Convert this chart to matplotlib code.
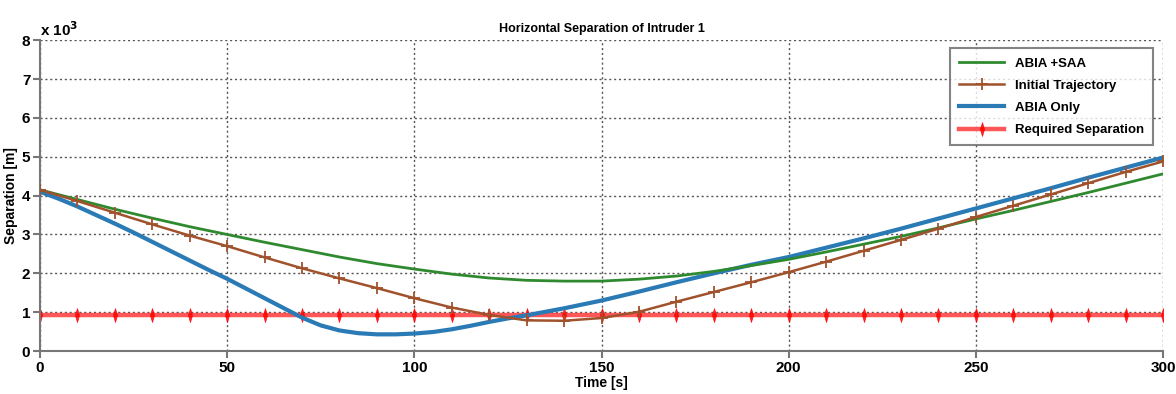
import matplotlib
matplotlib.use("Agg")
import matplotlib.pyplot as plt

# time axis [s] and separations [x 10^3 m]
t_10 = [0, 10, 20, 30, 40, 50, 60, 70, 80, 90, 100, 110, 120, 130, 140, 150,
        160, 170, 180, 190, 200, 210, 220, 230, 240, 250, 260, 270, 280, 290, 300]

abia_saa = [4.15, 3.90, 3.65, 3.42, 3.20, 3.00, 2.80, 2.61, 2.42, 2.25, 2.11, 1.98,
            1.88, 1.82, 1.80, 1.80, 1.85, 1.93, 2.05, 2.20, 2.36, 2.55, 2.75, 2.95,
            3.17, 3.40, 3.62, 3.85, 4.08, 4.32, 4.56]

initial = [4.15, 3.86, 3.56, 3.26, 2.97, 2.70, 2.41, 2.13, 1.87, 1.62, 1.36, 1.12,
           0.93, 0.79, 0.78, 0.85, 1.01, 1.27, 1.52, 1.77, 2.03, 2.30, 2.58, 2.86,
           3.15, 3.45, 3.74, 4.03, 4.32, 4.61, 4.88]

t_blue = [0, 5, 10, 15, 20, 25, 30, 35, 40, 45, 50, 55, 60, 65, 70, 75, 80, 85,
          90, 95, 100, 105, 110, 115, 120, 125, 130, 135, 140, 145, 150, 160, 170,
          180, 190, 200, 210, 220, 230, 240, 250, 260, 270, 280, 290, 300]
abia_only = [4.10, 3.92, 3.72, 3.50, 3.28, 3.05, 2.81, 2.57, 2.33, 2.09, 1.86, 1.61,
             1.36, 1.11, 0.86, 0.66, 0.53, 0.46, 0.43, 0.43, 0.45, 0.49, 0.56, 0.65,
             0.75, 0.84, 0.92, 1.01, 1.10, 1.20, 1.30, 1.53, 1.77, 2.00, 2.22, 2.42,
             2.66, 2.90, 3.15, 3.41, 3.67, 3.93, 4.19, 4.46, 4.72, 4.98]

required = [0.93] * len(t_10)

plt.rcParams['font.family'] = ['Liberation Sans', 'DejaVu Sans']
plt.rcParams['font.weight'] = 'bold'

fig = plt.figure(figsize=(11.76, 3.94), dpi=100)
ax = fig.add_axes([0.034, 0.109, 0.955, 0.789])

# narrow vertical diamond like the original marker
thin_diamond = [(0, -1), (0.3, 0), (0, 1), (-0.3, 0), (0, -1)]

ax.plot(t_10, abia_saa, color='#2f8a2f', lw=2, label='ABIA +SAA', zorder=4)
ax.plot(t_10, initial, color='#a0522d', lw=1.8, marker='+', ms=8, mew=1.3,
        label='Initial Trajectory', zorder=4)
ax.plot(t_blue, abia_only, color='#2a7ab5', lw=3, label='ABIA Only', zorder=3)
ax.plot(t_10, required, color='#ff3a3a', lw=3.2, alpha=0.85, marker=thin_diamond,
        ms=10, mec='#ff0000', mfc='#ff0000', mew=0.5, label='Required Separation',
        zorder=2)

ax.set_xlim(0, 300)
ax.set_ylim(0, 8)
ax.set_xticks(range(0, 301, 50))
ax.set_yticks(range(0, 9))
ax.grid(True, color='#555555', linestyle=(0, (1.5, 2)), linewidth=1)
for s in ['top', 'right']:
    ax.spines[s].set_visible(False)
for s in ['left', 'bottom']:
    ax.spines[s].set_color('#777777')
    ax.spines[s].set_linewidth(1.5)
ax.tick_params(labelsize=11, color='#777777', width=1.5, length=5, pad=2)
for lab in ax.get_xticklabels() + ax.get_yticklabels():
    lab.set_fontweight('bold')

ax.set_xlabel('Time [s]', fontsize=10, fontweight='bold', labelpad=1)
ax.set_ylabel('Separation [m]', fontsize=10, fontweight='bold', labelpad=3)
ax.set_title('Horizontal Separation of Intruder 1', fontsize=9, fontweight='bold', pad=6)
ax.text(0.0, 1.005, r'x 10$^3$', transform=ax.transAxes, fontsize=11,
        fontweight='bold', ha='left', va='bottom')

leg = ax.legend(loc='upper right', fontsize=9.5, frameon=True, fancybox=False,
                borderpad=0.7, labelspacing=0.75, handlelength=3.4,
                bbox_to_anchor=(0.997, 0.995))
leg.get_frame().set_edgecolor('#666666')
leg.get_frame().set_linewidth(1.5)
for txt in leg.get_texts():
    txt.set_fontweight('bold')

fig.savefig('out.png', dpi=100)
